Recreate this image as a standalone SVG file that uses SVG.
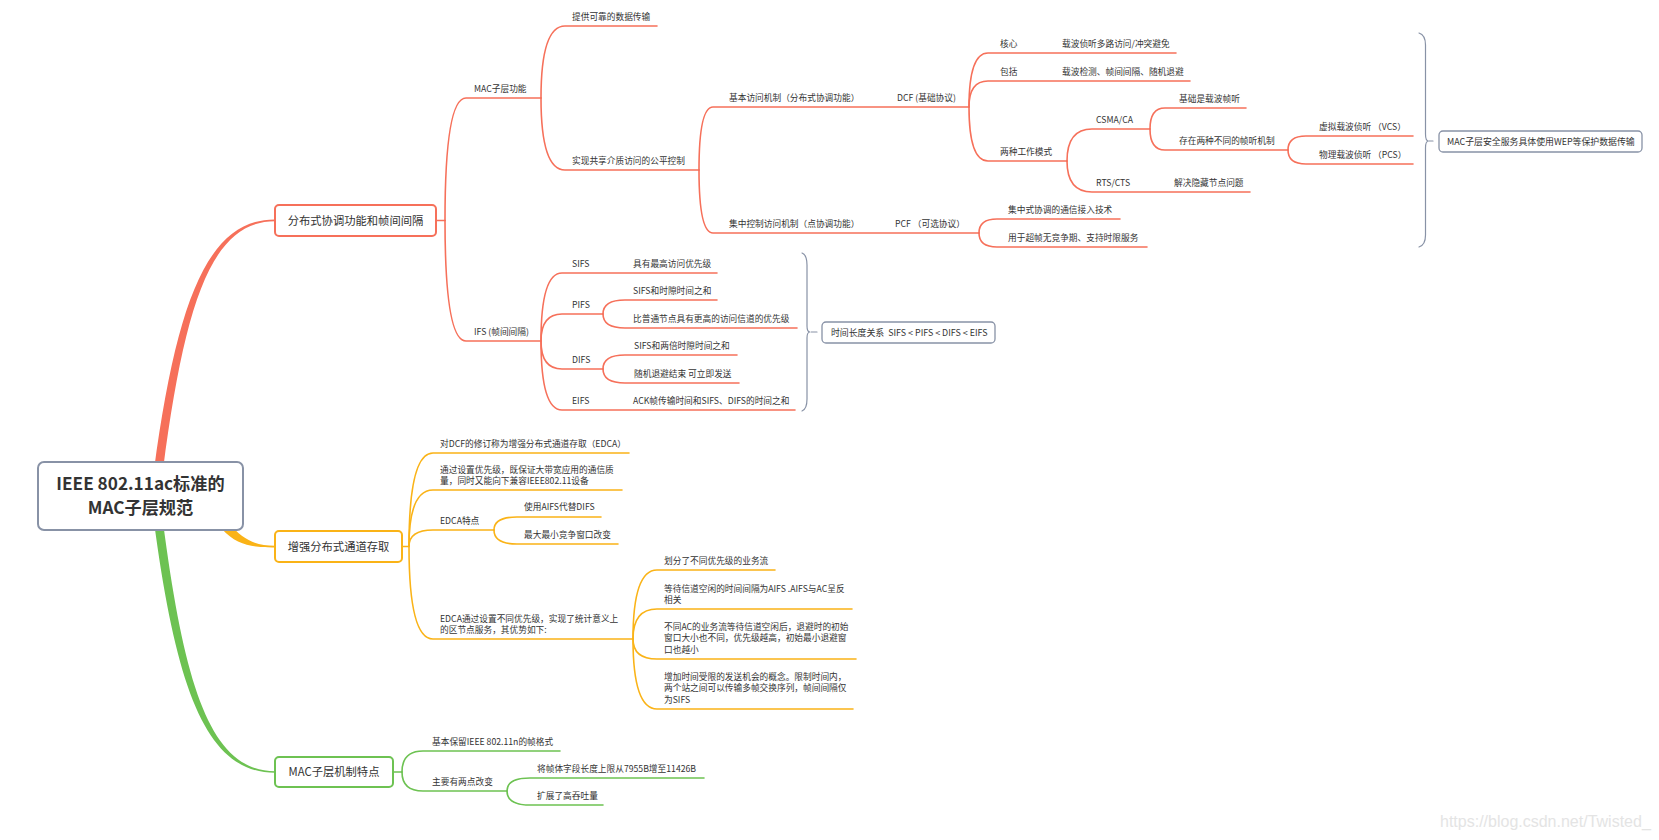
<svg xmlns="http://www.w3.org/2000/svg" width="1659" height="840" viewBox="0 0 1659 840">
<style>
text{font-family:"Noto Sans CJK SC","Liberation Sans",sans-serif;fill:#333}
.t{font-size:8.7px}
.b{font-size:11.3px;text-anchor:middle}
.s{font-size:8.9px;white-space:pre}
.root{font-size:17.2px;font-weight:bold;text-anchor:middle}
.wm{font-family:"Liberation Sans",Arial,sans-serif;font-size:16px;fill:#e4e4e4}
.cr,.co,.cg,.cb{fill:none;stroke-width:1.6;stroke-linecap:round}
.cr{stroke:#F6705A}.co{stroke:#FAB317}.cg{stroke:#6DC252}.cb{stroke:#8892A6;stroke-width:1.2}
.br{fill:#fff;stroke:#F6705A;stroke-width:2}
.bo{fill:#fff;stroke:#FAB317;stroke-width:2}
.bg{fill:#fff;stroke:#6DC252;stroke-width:2}
.bb{fill:#fff;stroke:#8892A6;stroke-width:1.3}
</style>
<rect width="1659" height="840" fill="#fff"/>
<g id="connectors">
<path d="M154,470 C177,300 208,219.2 275,219.4 L275,221.2 C212,221.2 185,301 163,470 Z" fill="#F6705A"/>
<path d="M222,529 C237,546 255,547.6 275,547.4 L275,545.8 C255,545.6 243,540 228,522 Z" fill="#FAB317"/>
<path d="M154,522 C177,694 208,772.8 275,772.8 L275,771.2 C212,771 185,691 163,522 Z" fill="#6DC252"/>
<g class="cr">
<path d="M436,220.5 H445"/>
<path d="M445,220.5 Q445,98 466,98 H541"/>
<path d="M445,220.5 Q445,341 466,341 H541"/>
<path d="M541,98 Q541,26 565,26 H657"/>
<path d="M541,98 Q541,170 565,170 H699"/>
<path d="M699,170 Q699,107 713,107 H969"/>
<path d="M699,170 Q699,233 713,233 H979"/>
<path d="M969,107 Q969,53 988,53 H1176"/>
<path d="M969,107 Q969,81 988,81 H1190"/>
<path d="M969,107 Q969,161 988,161 H1067"/>
<path d="M1067,161 Q1067,129 1092,129 H1150"/>
<path d="M1067,161 Q1067,192 1092,192 H1250"/>
<path d="M1150,129 Q1150,108 1165,108 H1246"/>
<path d="M1150,129 Q1150,150 1165,150 H1288"/>
<path d="M1288,150 Q1288,136 1306,136 H1413"/>
<path d="M1288,150 Q1288,164 1306,164 H1413"/>
<path d="M979,233 Q979,219 997,219 H1120"/>
<path d="M979,233 Q979,247 997,247 H1147"/>
<path d="M541,341 Q541,273 562,273 H717"/>
<path d="M541,341 Q541,314 562,314 H603"/>
<path d="M541,341 Q541,369 562,369 H603"/>
<path d="M541,341 Q541,410 562,410 H795"/>
<path d="M603,314 Q603,300 625,300 H717"/>
<path d="M603,314 Q603,328 625,328 H797"/>
<path d="M603,369 Q603,355 625,355 H737"/>
<path d="M603,369 Q603,383 625,383 H739"/>
</g>
<g class="co">
<path d="M402,546.5 H409"/>
<path d="M409,546.5 Q409,453 433,453 H629"/>
<path d="M409,546.5 Q409,490 433,490 H622"/>
<path d="M409,546.5 Q409,530 433,530 H494"/>
<path d="M409,546.5 Q409,639 433,639 H633"/>
<path d="M494,530 Q494,517 517,517 H601"/>
<path d="M494,530 Q494,544 517,544 H618"/>
<path d="M633,639 Q633,570 657,570 H775"/>
<path d="M633,639 Q633,609 657,609 H852"/>
<path d="M633,639 Q633,659 657,659 H856"/>
<path d="M633,639 Q633,709 657,709 H853"/>
</g>
<g class="cg">
<path d="M393,772 H402"/>
<path d="M402,772 Q402,751 423,751 H560"/>
<path d="M402,772 Q402,791 423,791 H507"/>
<path d="M507,791 Q507,778 530,778 H704"/>
<path d="M507,791 Q507,805 530,805 H603"/>
</g>
<g class="cb">
<path d="M1419,33 Q1425.5,35 1425.5,45 L1425.5,134 Q1425.5,141 1428.5,141 Q1425.5,141 1425.5,148 L1425.5,235 Q1425.5,245 1419,247"/>
<path d="M1429,141 H1433"/>
<path d="M802,253 Q807,255 807,265 L807,326 Q807,332 810,332 Q807,332 807,338 L807,399 Q807,409 802,411"/>
<path d="M811,332 H817"/>
</g>
</g>
<g id="root">
<rect x="38" y="462" width="205" height="68" rx="6" fill="#fff" stroke="#8892A6" stroke-width="2"/>
<text class="root" x="140.5" y="489.5">IEEE 802.11ac标准的</text>
<text class="root" x="140.5" y="513.5">MAC子层规范</text>
</g>
<g id="n-dcf-ifs">
<rect class="br" x="275" y="205" width="161" height="31" rx="4"/>
<text class="b" x="355.5" y="224.5">分布式协调功能和帧间间隔</text>
</g>
<g id="n-edca">
<rect class="bo" x="275" y="531" width="127" height="31" rx="4"/>
<text class="b" x="338.5" y="550.5">增强分布式通道存取</text>
</g>
<g id="n-mac-feature">
<rect class="bg" x="275" y="757" width="118" height="30" rx="4"/>
<text class="b" x="334" y="776">MAC子层机制特点</text>
</g>
<g id="n-red-sub">
<text class="t" x="474" y="91.5">MAC子层功能</text>
<text class="t" x="572" y="19.5">提供可靠的数据传输</text>
<text class="t" x="572" y="163.5">实现共享介质访问的公平控制</text>
<text class="t" x="729" y="100.5">基本访问机制（分布式协调功能）</text>
<text class="t" x="897" y="100.5">DCF (基础协议)</text>
<text class="t" x="1000" y="46.5">核心</text>
<text class="t" x="1062" y="46.5">载波侦听多路访问/冲突避免</text>
<text class="t" x="1000" y="74.5">包括</text>
<text class="t" x="1062" y="74.5">载波检测、帧间间隔、随机退避</text>
<text class="t" x="1000" y="154.5">两种工作模式</text>
<text class="t" x="1096" y="122.5">CSMA/CA</text>
<text class="t" x="1179" y="101.5">基础是载波帧听</text>
<text class="t" x="1179" y="143.5">存在两种不同的帧听机制</text>
<text class="t" x="1319" y="129.5">虚拟载波侦听 （VCS）</text>
<text class="t" x="1319" y="157.5">物理载波侦听 （PCS）</text>
<text class="t" x="1096" y="185.5">RTS/CTS</text>
<text class="t" x="1174" y="185.5">解决隐藏节点问题</text>
<text class="t" x="729" y="226.5">集中控制访问机制（点协调功能）</text>
<text class="t" x="895" y="226.5">PCF （可选协议）</text>
<text class="t" x="1008" y="212.5">集中式协调的通信接入技术</text>
<text class="t" x="1008" y="240.5">用于超帧无竞争期、支持时限服务</text>
<text class="t" x="474" y="334.5">IFS (帧间间隔)</text>
<text class="t" x="572" y="266.5">SIFS</text>
<text class="t" x="633" y="266.5">具有最高访问优先级</text>
<text class="t" x="572" y="307.5">PIFS</text>
<text class="t" x="633" y="293.5">SIFS和时隙时间之和</text>
<text class="t" x="633" y="321.5">比普通节点具有更高的访问信道的优先级</text>
<text class="t" x="572" y="362.5">DIFS</text>
<text class="t" x="634" y="348.5">SIFS和两倍时隙时间之和</text>
<text class="t" x="634" y="376.5">随机退避结束 可立即发送</text>
<text class="t" x="572" y="403.5">EIFS</text>
<text class="t" x="633" y="403.5">ACK帧传输时间和SIFS、DIFS的时间之和</text>
</g>
<g id="n-summary-time">
<rect class="bb" x="822" y="322" width="173" height="21" rx="4"/>
<text class="s" x="831" y="336">时间长度关系  SIFS &lt; PIFS &lt; DIFS &lt; EIFS</text>
</g>
<g id="n-summary-wep">
<rect class="bb" x="1439" y="131" width="203" height="21" rx="4"/>
<text class="s" x="1447" y="145">MAC子层安全服务具体使用WEP等保护数据传输</text>
</g>
<g id="n-orange-sub">
<text class="t" x="440" y="446.5">对DCF的修订称为增强分布式通道存取（EDCA）</text>
<text class="t" x="440" y="472.5">通过设置优先级，既保证大带宽应用的通信质</text>
<text class="t" x="440" y="484">量，同时又能向下兼容IEEE802.11设备</text>
<text class="t" x="440" y="523.5">EDCA特点</text>
<text class="t" x="524" y="510">使用AIFS代替DIFS</text>
<text class="t" x="524" y="537.5">最大最小竞争窗口改变</text>
<text class="t" x="440" y="621.5">EDCA通过设置不同优先级，实现了统计意义上</text>
<text class="t" x="440" y="633">的区节点服务，其优势如下:</text>
<text class="t" x="664" y="563.5">划分了不同优先级的业务流</text>
<text class="t" x="664" y="591.5">等待信道空闲的时间间隔为AIFS .AIFS与AC呈反</text>
<text class="t" x="664" y="603">相关</text>
<text class="t" x="664" y="629.5">不同AC的业务流等待信道空闲后，退避时的初始</text>
<text class="t" x="664" y="641">窗口大小也不同，优先级越高，初始最小退避窗</text>
<text class="t" x="664" y="652.5">口也越小</text>
<text class="t" x="664" y="679.5">增加时间受限的发送机会的概念。限制时间内，</text>
<text class="t" x="664" y="691">两个站之间可以传输多帧交换序列，帧间间隔仅</text>
<text class="t" x="664" y="702.5">为SIFS</text>
</g>
<g id="n-green-sub">
<text class="t" x="432" y="744.5">基本保留IEEE 802.11n的帧格式</text>
<text class="t" x="432" y="784.5">主要有两点改变</text>
<text class="t" x="537" y="771.5">将帧体字段长度上限从7955B增至11426B</text>
<text class="t" x="537" y="798.5">扩展了高吞吐量</text>
</g>
<text class="wm" x="1440" y="827">https://blog.csdn.net/Twisted_</text>
</svg>
